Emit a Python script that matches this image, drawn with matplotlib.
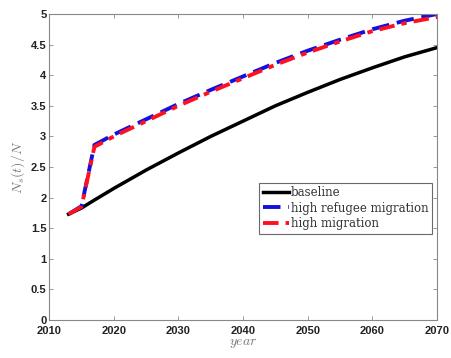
import matplotlib
matplotlib.use('Agg')
import matplotlib.pyplot as plt

# 数据
years = [2013, 2015, 2017, 2020, 2025, 2030, 2035, 2040, 2045, 2050, 2055, 2060, 2065, 2070]
baseline = [1.73, 1.83, 1.96, 2.15, 2.45, 2.73, 3.00, 3.25, 3.50, 3.72, 3.93, 4.12, 4.30, 4.45]
refugee = [1.73, 1.86, 2.86, 3.03, 3.28, 3.53, 3.76, 3.98, 4.20, 4.40, 4.58, 4.75, 4.89, 5.00]
high_mig = [1.73, 1.85, 2.83, 3.00, 3.25, 3.50, 3.73, 3.95, 4.17, 4.37, 4.55, 4.72, 4.85, 4.95]

plt.rcParams['mathtext.fontset'] = 'cm'

fig = plt.figure(figsize=(4.51, 3.58), dpi=100)
ax = fig.add_axes([0.109, 0.106, 0.86, 0.855])

ax.plot(years, baseline, '-', color='black', linewidth=2.5, label='baseline')
ax.plot(years, refugee, '--', color='#1010e0', linewidth=2.8, dashes=(4.5, 2),
        label='high refugee migration')
ax.plot(years, high_mig, '-.', color='#ff1020', linewidth=2.8, dashes=(4, 1.8, 1.4, 1.8),
        label='high migration')

ax.set_xlim(2010, 2070)
ax.set_ylim(0, 5)
ax.set_xticks(range(2010, 2071, 10))
ax.set_yticks([0, 0.5, 1, 1.5, 2, 2.5, 3, 3.5, 4, 4.5, 5])
ax.set_yticklabels(['0', '0.5', '1', '1.5', '2', '2.5', '3', '3.5', '4', '4.5', '5'])
ax.tick_params(direction='in', top=True, right=True, length=3, width=0.6,
               color='#888888', labelsize=8, pad=2)
ax.tick_params(axis='x', pad=4.5)
for lb in ax.get_xticklabels() + ax.get_yticklabels():
    lb.set_fontweight('bold')
    lb.set_family('Liberation Sans')
    lb.set_color('#222222')
for sp in ax.spines.values():
    sp.set_color('#888888')
    sp.set_linewidth(0.8)

ax.set_xlabel(r'$year$', fontsize=10, color='#777777', labelpad=0)
ax.set_ylabel(r'$N_s(t)/N$', fontsize=10, color='#777777', labelpad=3)

leg = ax.legend(loc='upper left', bbox_to_anchor=(0.526, 0.468),
                frameon=True, fancybox=False, edgecolor='#444444', handlelength=2.2,
                handletextpad=0.2, borderpad=0.3, labelspacing=0.2,
                prop={'family': 'DejaVu Serif', 'size': 8.5})
leg.get_frame().set_linewidth(0.8)
for t in leg.get_texts():
    t.set_color('#333333')

fig.savefig('out.png', dpi=100)
